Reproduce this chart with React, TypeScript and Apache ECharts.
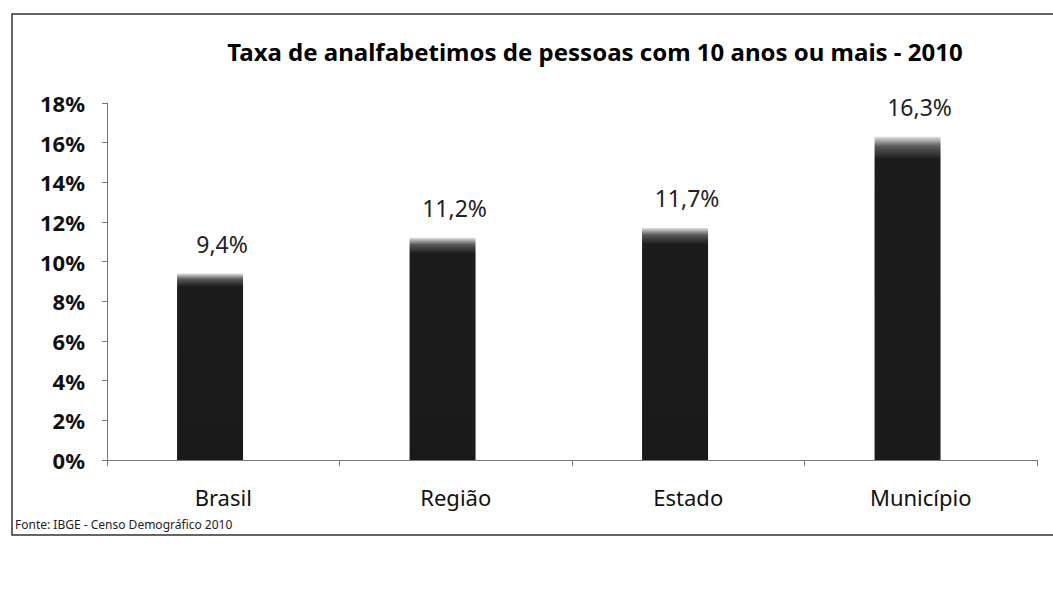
import React, { useEffect, useRef } from "react";
import * as echarts from "echarts";

const categories = ["Brasil", "Região", "Estado", "Município"];
const values = [9.4, 11.2, 11.7, 16.3];
const valueLabels = ["9,4%", "11,2%", "11,7%", "16,3%"];
const spacer = [0, 0, 0, 0];
const yTicks = [0, 2, 4, 6, 8, 10, 12, 14, 16, 18];
const titleText = "Taxa de analfabetimos de pessoas com 10 anos ou mais - 2010";
const sourceText = "Fonte: IBGE - Censo Demográfico 2010";

export default function App() {
  const ref = useRef<HTMLDivElement>(null);
  useEffect(() => {
    if (!ref.current) return;
    const chart = echarts.init(ref.current, undefined, { renderer: "svg" });
    chart.setOption({
      animation: false,
      backgroundColor: "#ffffff",
      title: {
        text: titleText,
        left: 590,
        textAlign: "center",
        top: 34,
        textStyle: { fontFamily: "Noto Sans", fontWeight: "bold", fontSize: 24, color: "#000" },
      },
      grid: { left: 107, right: 16, top: 103, bottom: 135 },
      xAxis: {
        type: "category",
        data: categories,
        boundaryGap: true,
        axisLine: { show: true, lineStyle: { color: "#777", width: 1 } },
        axisTick: { show: true, alignWithLabel: false, length: 6, lineStyle: { color: "#777" } },
        axisLabel: { fontFamily: "Noto Sans", fontSize: 22, color: "#111", margin: 26 },
      },
      yAxis: {
        type: "value",
        min: yTicks[0],
        max: yTicks[yTicks.length - 1],
        interval: 2,
        splitLine: { show: false },
        axisLine: { show: true, lineStyle: { color: "#777", width: 1 } },
        axisTick: { show: true, length: 5, lineStyle: { color: "#777" } },
        axisLabel: {
          fontFamily: "Noto Sans",
          fontWeight: "bold",
          fontSize: 22,
          color: "#111",
          margin: 22,
          formatter: (v: number) => `${v}%`,
        },
      },
      series: [
        {
          type: "bar",
          data: values,
          barWidth: 66,
          barGap: "-60%",
          itemStyle: {
            color: {
              type: "linear",
              x: 0,
              y: 0,
              x2: 0,
              y2: 1,
              colorStops: [
                { offset: 0, color: "#e0e0e0" },
                { offset: 0.03, color: "#5a5a5a" },
                { offset: 0.07, color: "#1c1c1c" },
                { offset: 1, color: "#1a1a1a" },
              ],
            },
          },
          label: {
            show: true,
            position: "top",
            distance: 18,
            offset: [12, 0],
            fontFamily: "Noto Sans",
            fontSize: 23,
            color: "#222",
            formatter: (p: any) => valueLabels[p.dataIndex],
          },
        },
        {
          type: "bar",
          data: spacer,
          barWidth: 66,
          silent: true,
          itemStyle: { color: "rgba(0,0,0,0)" },
          label: { show: false },
        },
      ],
      graphic: [
        {
          type: "rect",
          shape: { x: 12, y: 14, width: 1060, height: 521 },
          style: { fill: "none", stroke: "#333", lineWidth: 1.5 },
        },
        {
          type: "text",
          left: 15,
          top: 518,
          style: { text: sourceText, fontFamily: "Noto Sans", fontSize: 12, fill: "#222" },
        },
      ],
    });
    return () => chart.dispose();
  }, []);
  return (
    <div
      ref={ref}
      style={{ position: "fixed", left: 0, top: 0, width: 1053, height: 595 }}
    />
  );
}
